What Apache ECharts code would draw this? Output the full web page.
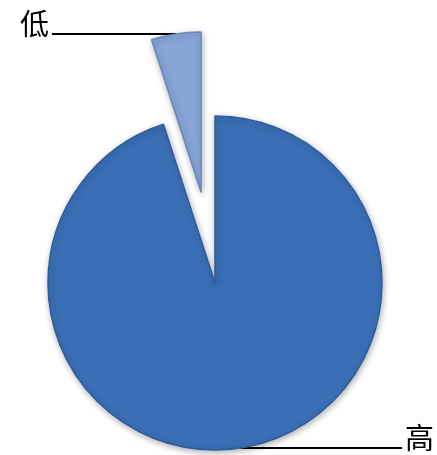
<!DOCTYPE html>
<html>
<head>
<meta charset="utf-8">
<script src="https://cdn.jsdelivr.net/npm/echarts@6/dist/echarts.min.js"></script>
<style>
html, body { margin: 0; padding: 0; background: #fff; }
#chart { width: 437px; height: 455px; }
</style>
</head>
<body>
<div id="chart"></div>
<script>
// 数据
var categories = ['高', '低'];
var values = [95, 5];
var colors = ['#3a6fb6', '#87a5d6'];
var borders = ['#2d5d9c', '#6a88ba'];

var chart = echarts.init(document.getElementById('chart'));

// 每个扇区画成一个独立的饼，方便把"低"拉出去
function sliceSeries(showIndex, center, radius, lineLen) {
    return {
        type: 'pie',
        center: center,
        radius: radius,
        startAngle: 90,
        clockwise: true,
        silent: true,
        emphasis: { disabled: true },
        animation: false,
        avoidLabelOverlap: false,
        labelLine: { show: true, length: 0, length2: lineLen, lineStyle: { color: '#000', width: 2 } },
        data: categories.map(function (name, i) {
            var on = i === showIndex;
            return {
                name: name,
                value: values[i],
                itemStyle: on ? {
                    color: colors[i],
                    borderColor: borders[i],
                    borderWidth: 1.5,
                    shadowBlur: 6,
                    shadowColor: 'rgba(0,0,0,0.3)',
                    shadowOffsetX: 1,
                    shadowOffsetY: 2
                } : { color: 'transparent' },
                label: on ? {
                    show: true,
                    formatter: '{t|{b}}',
                    rich: {
                        t: {
                            color: '#000',
                            fontSize: 29,
                            fontFamily: 'Noto Sans CJK SC',
                            padding: [0, 0, 20, 0]
                        }
                    },
                    distanceToLabelLine: 3,
                    overflow: 'none',
                    edgeDistance: 0
                } : { show: false },
                labelLine: { show: on }
            };
        })
    };
}

chart.setOption({
    backgroundColor: '#fff',
    series: [
        sliceSeries(0, [215, 283], 167, 161),
        sliceSeries(1, [201, 192], 160, 124)
    ]
});
</script>
</body>
</html>
